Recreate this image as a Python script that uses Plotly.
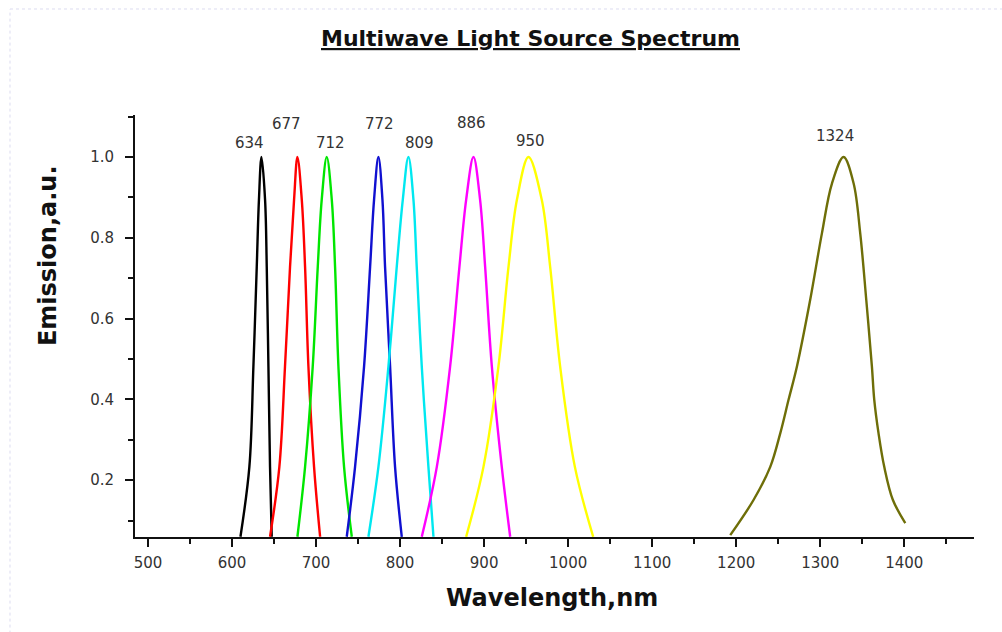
import plotly.graph_objects as go

# ---- data ----
peak_labels = ["634", "677", "712", "772", "809", "886", "950", "1324"]
colors = ["#000000", "#ff0000", "#00e600", "#1010d0", "#00e8f0", "#ff00ff", "#ffff00", "#6e6e08"]

levels11 = [0.06, 0.233, 0.481, 0.728, 0.894, 1.0, 0.894, 0.728, 0.481, 0.233, 0.06]

x634 = [610, 620.6, 625.4, 629.4, 632, 635, 639.3, 641.3, 643.3, 645.2, 647.2]
y634 = levels11
x677 = [645.2, 656.3, 663, 669, 673.8, 677.8, 683, 686.9, 690.9, 697.6, 704.8]
y677 = levels11
x712 = [677.8, 686.9, 696, 702, 706.7, 712.7, 718.7, 722.6, 726.6, 733.3, 742.5]
y712 = levels11
x772 = [736.5, 746.4, 757.1, 764.3, 769, 774.2, 779, 782.1, 788.1, 794, 802]
y772 = levels11
x809 = [762.3, 774.2, 786.1, 796, 803.2, 809.9, 815.9, 819.8, 825.8, 833.7, 839.7]
y809 = levels11
x886 = [825.8, 843.7, 859.5, 870.6, 878.6, 887.3, 895.2, 901.2, 909.2, 921, 931]
y886 = levels11
x950 = [878.6, 899.2, 917, 929, 939, 952.8, 968.6, 978.6, 990.5, 1008, 1029.8]
y950 = levels11
x1324 = [1192.9, 1220.6, 1240.5, 1252.4, 1262.3, 1272.2, 1288, 1302, 1314, 1327.8,
         1339.7, 1347.6, 1354.8, 1361.5, 1364.3, 1369.4, 1376.2, 1386.5, 1401.2]
y1324 = [0.064, 0.151, 0.233, 0.316, 0.399, 0.481, 0.646, 0.811, 0.935, 1.0,
         0.935, 0.811, 0.646, 0.481, 0.399, 0.316, 0.233, 0.151, 0.094]

xs = [x634, x677, x712, x772, x809, x886, x950, x1324]
ys = [y634, y677, y712, y772, y809, y886, y950, y1324]
peaks = [634, 677, 712, 772, 809, 886, 950, 1324]

x_tick_vals = [500, 600, 700, 800, 900, 1000, 1100, 1200, 1300, 1400]
y_tick_vals = [0.2, 0.4, 0.6, 0.8, 1.0]

# label placement (pixel offsets from each peak top)
label_dx = [-11, -10, 4, 3, 12, -1, 4, -5]
label_dy = [14, 33, 14, 33, 14, 34, 16, 21]

fig = go.Figure()
for i in range(len(xs)):
    fig.add_trace(go.Scatter(
        x=xs[i], y=ys[i], mode="lines",
        line=dict(color=colors[i], width=2.4, shape="spline", smoothing=1.0),
        showlegend=False, hoverinfo="skip"))

tick_font = dict(family="DejaVu Sans", size=15, color="#333333")

for i, p in enumerate(peaks):
    fig.add_annotation(x=p, y=1.0, xref="x", yref="y", text=peak_labels[i],
                       showarrow=False, xshift=label_dx[i], yshift=label_dy[i],
                       font=tick_font, xanchor="center", yanchor="middle")

# title and axis titles
fig.add_annotation(x=0.4708, y=1.181, xref="paper", yref="paper",
                   text="<u>Multiwave Light Source Spectrum</u>", showarrow=False,
                   font=dict(family="DejaVu Sans", size=22, color="#111111", weight="bold"),
                   xanchor="center", yanchor="middle")
fig.add_annotation(x=0.497, y=-0.1445, xref="paper", yref="paper",
                   text="Wavelength,nm", showarrow=False,
                   font=dict(family="DejaVu Sans", size=24, color="#111111", weight="bold"),
                   xanchor="center", yanchor="middle")
fig.add_annotation(x=-0.1037, y=0.668, xref="paper", yref="paper",
                   text="Emission,a.u.", showarrow=False, textangle=-90,
                   font=dict(family="DejaVu Sans", size=24, color="#111111", weight="bold"),
                   xanchor="center", yanchor="middle")

# faint dotted page frame
fig.add_shape(type="line", xref="paper", yref="paper", x0=-0.149, x1=1.2, y0=1.2512, y1=1.2512,
              line=dict(color="#dcdcf0", width=1, dash="dot"))
fig.add_shape(type="line", xref="paper", yref="paper", x0=-0.149, x1=-0.149, y0=-0.3, y1=1.2512,
              line=dict(color="#dcdcf0", width=1, dash="dot"))

fig.update_xaxes(range=[484.5, 1483], tickvals=x_tick_vals, ticktext=[str(v) for v in x_tick_vals],
                 showline=True, linecolor="#111111", linewidth=2,
                 ticks="outside", ticklen=8, tickwidth=2, tickcolor="#111111",
                 minor=dict(ticks="outside", ticklen=5, tickwidth=2, tickcolor="#111111", dtick=50, tick0=0),
                 showgrid=False, zeroline=False, tickfont=tick_font, ticklabelstandoff=3)
fig.update_yaxes(range=[0.0594, 1.104], tickvals=y_tick_vals, ticktext=["%.1f" % v for v in y_tick_vals],
                 showline=True, linecolor="#111111", linewidth=2,
                 ticks="outside", ticklen=8, tickwidth=2, tickcolor="#111111",
                 minor=dict(ticks="outside", ticklen=5, tickwidth=2, tickcolor="#111111", dtick=0.1, tick0=0),
                 showgrid=False, zeroline=False, tickfont=tick_font, ticklabelstandoff=8)

fig.update_layout(width=1002, height=632, paper_bgcolor="white", plot_bgcolor="white",
                  margin=dict(l=135, r=28, t=115, b=95))

fig.write_html("out.html")
